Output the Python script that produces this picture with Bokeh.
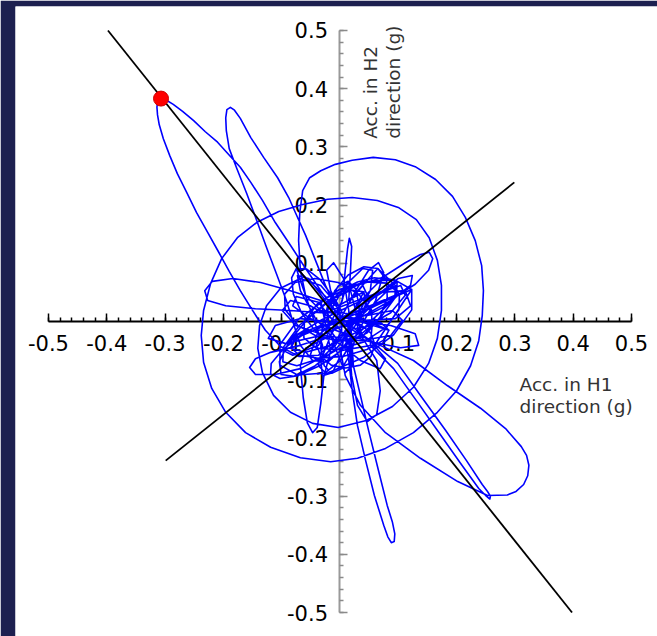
from bokeh.plotting import figure
from bokeh.models import Range1d, LinearAxis, FixedTicker, CustomJSTickFormatter, Label, ColumnDataSource
from bokeh.embed import file_html
from bokeh.resources import INLINE

# ---------------- data (acceleration orbit, g) ----------------
# Each segment: H1 (x) and H2 (y) acceleration values
h1_start = [0.001]
h2_start = [0.000]

h1_core1 = [0.001, 0.035, 0.078, 0.104, 0.112, 0.087, 0.035, -0.016, -0.059, -0.085, -0.076, -0.033]
h2_core1 = [0.000, 0.027, 0.053, 0.062, 0.045, 0.015, -0.015, -0.041, -0.053, -0.046, -0.024, -0.007]

h1_peak_loop = [-0.008, -0.033, -0.059, -0.085, -0.111, -0.133, -0.153, -0.171, -0.191, -0.210, -0.231, -0.251,
                -0.270, -0.286, -0.299, -0.308, -0.313, -0.314, -0.313, -0.310, -0.303, -0.292, -0.279, -0.263, -0.246,
                -0.227, -0.208, -0.190, -0.171, -0.150, -0.128, -0.102, -0.071, -0.037, -0.008]
h2_peak_loop = [0.019, 0.053, 0.091, 0.131, 0.170, 0.208, 0.239, 0.265, 0.287, 0.308, 0.326, 0.345,
                0.361, 0.373, 0.381, 0.383, 0.378, 0.368, 0.355, 0.338, 0.314, 0.285, 0.254, 0.222, 0.187,
                0.153, 0.119, 0.086, 0.053, 0.019, -0.015, -0.043, -0.060, -0.058, -0.033]

h1_loop_k1 = [0.098, 0.074, 0.029, -0.023, -0.069, -0.097, -0.098, -0.074, -0.029, 0.023, 0.069, 0.097, 0.098]
h2_loop_k1 = [0.069, 0.076, 0.062, 0.033, -0.006, -0.044, -0.069, -0.076, -0.062, -0.033, 0.006, 0.044, 0.069]

h1_core2 = [0.001, 0.027, 0.049, 0.066, 0.075, 0.061, 0.027, 0.001, -0.025, -0.037, -0.030]
h2_core2 = [0.005, 0.053, 0.088, 0.101, 0.084, 0.036, -0.024, -0.067, -0.088, -0.076, -0.041]

h1_loop_k9 = [-0.075, -0.083, -0.080, -0.066, -0.045, -0.023, -0.005, 0.003, 0.000, -0.014, -0.035, -0.057, -0.075]
h2_loop_k9 = [0.091, 0.075, 0.047, 0.015, -0.013, -0.030, -0.031, -0.015, 0.013, 0.045, 0.073, 0.090, 0.091]

h1_upper_loop = [-0.008, -0.025, -0.042, -0.059, -0.076, -0.088, -0.107, -0.131, -0.153, -0.171, -0.181, -0.188,
                 -0.194, -0.196, -0.195, -0.190, -0.177, -0.160, -0.143, -0.126, -0.109, -0.092, -0.080, -0.068, -0.047,
                 -0.021, 0.001]
h2_upper_loop = [0.027, 0.062, 0.105, 0.148, 0.186, 0.213, 0.247, 0.282, 0.316, 0.349, 0.363, 0.368,
                 0.364, 0.350, 0.328, 0.297, 0.263, 0.220, 0.174, 0.127, 0.082, 0.036, -0.003, -0.041, -0.067,
                 -0.070, -0.050]

h1_loop_k2 = [0.102, 0.080, 0.043, -0.001, -0.039, -0.061, -0.062, -0.040, -0.003, 0.041, 0.079, 0.101, 0.102]
h2_loop_k2 = [0.048, 0.066, 0.068, 0.055, 0.030, 0.000, -0.028, -0.046, -0.048, -0.035, -0.010, 0.020, 0.048]

h1_core3 = [-0.008, -0.051, -0.085, -0.099, -0.076, -0.025, 0.035, 0.087, 0.107, 0.090, 0.044]
h2_core3 = [0.002, 0.027, 0.036, 0.019, -0.007, -0.024, -0.033, -0.024, 0.002, 0.019, 0.010]

h1_spiral = [-0.033, -0.059, -0.068, -0.071, -0.069, -0.064, -0.052, -0.033, -0.008, 0.021, 0.057, 0.095,
             0.129, 0.164, 0.193, 0.215, 0.232, 0.243, 0.246, 0.244, 0.238, 0.224, 0.200, 0.167,
             0.126, 0.078, 0.030, -0.016, -0.068, -0.119, -0.162, -0.196, -0.220, -0.234, -0.238, -0.234,
             -0.222, -0.203, -0.176, -0.143, -0.105, -0.064, -0.021, 0.021, 0.064, 0.100, 0.131, 0.153,
             0.167, 0.174, 0.174, 0.167, 0.152, 0.126, 0.090, 0.045, -0.003, -0.047, -0.085, -0.114,
             -0.133, -0.141, -0.138, -0.126, -0.102, -0.068, -0.033, -0.003]
h2_spiral = [0.019, 0.045, 0.088, 0.139, 0.187, 0.225, 0.247, 0.259, 0.270, 0.277, 0.282, 0.278,
             0.266, 0.244, 0.215, 0.179, 0.139, 0.096, 0.053, 0.010, -0.033, -0.076, -0.119, -0.156,
             -0.191, -0.218, -0.235, -0.241, -0.234, -0.216, -0.191, -0.156, -0.115, -0.070, -0.024, 0.019,
             0.065, 0.108, 0.144, 0.170, 0.189, 0.201, 0.210, 0.213, 0.208, 0.196, 0.175, 0.144,
             0.105, 0.062, 0.019, -0.029, -0.072, -0.113, -0.146, -0.170, -0.182, -0.175, -0.156, -0.127,
             -0.088, -0.046, -0.007, 0.027, 0.057, 0.074, 0.062, 0.027]

h1_loop_k3 = [0.041, 0.019, -0.016, -0.055, -0.087, -0.104, -0.101, -0.079, -0.044, -0.005, 0.027, 0.044, 0.041]
h2_loop_k3 = [0.051, 0.054, 0.037, 0.005, -0.034, -0.069, -0.091, -0.094, -0.077, -0.045, -0.006, 0.029, 0.051]

h1_core4 = [0.009, 0.052, 0.078, 0.069, 0.035, -0.008, -0.042, -0.068, -0.073, -0.054, -0.025]
h2_core4 = [-0.007, -0.033, -0.064, -0.081, -0.067, -0.033, 0.005, 0.053, 0.079, 0.074, 0.036]

h1_loop_k10 = [0.019, 0.003, -0.028, -0.065, -0.098, -0.118, -0.119, -0.103, -0.072, -0.035, -0.002, 0.018, 0.019]
h2_loop_k10 = [-0.010, -0.002, -0.008, -0.024, -0.048, -0.072, -0.090, -0.098, -0.093, -0.076, -0.053, -0.028, -0.010]

h1_right_loop = [0.018, 0.044, 0.078, 0.112, 0.138, 0.153, 0.159, 0.152, 0.129, 0.099, 0.061, 0.027]
h2_right_loop = [0.010, 0.045, 0.079, 0.101, 0.115, 0.119, 0.108, 0.088, 0.064, 0.045, 0.027, 0.010]

h1_loop_k4 = [0.084, 0.070, 0.037, -0.005, -0.046, -0.075, -0.084, -0.070, -0.037, 0.005, 0.046, 0.075, 0.084]
h2_loop_k4 = [-0.015, -0.002, 0.003, 0.000, -0.012, -0.028, -0.045, -0.058, -0.063, -0.060, -0.048, -0.032, -0.015]

h1_core5 = [0.001, 0.044, 0.095, 0.121, 0.112, 0.069, 0.018, -0.033, -0.076, -0.097, -0.081, -0.037]
h2_core5 = [0.010, 0.002, 0.005, 0.027, 0.053, 0.050, 0.027, 0.002, -0.024, -0.050, -0.058, -0.041]

h1_spike = [0.004, 0.009, 0.013, 0.016, 0.020, 0.018, 0.015]
h2_spike = [0.036, 0.088, 0.125, 0.143, 0.129, 0.088, 0.036]

h1_loop_k5 = [0.065, 0.041, 0.014, -0.009, -0.021, -0.020, -0.005, 0.019, 0.046, 0.069, 0.081, 0.080, 0.065]
h2_loop_k5 = [0.091, 0.094, 0.080, 0.053, 0.019, -0.011, -0.031, -0.034, -0.020, 0.008, 0.041, 0.071, 0.091]

h1_loop_k11 = [0.096, 0.084, 0.059, 0.030, 0.003, -0.014, -0.016, -0.004, 0.021, 0.050, 0.077, 0.094, 0.096]
h2_loop_k11 = [0.061, 0.072, 0.075, 0.068, 0.054, 0.036, 0.020, 0.008, 0.005, 0.012, 0.026, 0.044, 0.061]

h1_core6 = [-0.016, 0.009, 0.039, 0.056, 0.052, 0.027, -0.008, -0.037, -0.051, -0.037]
h2_core6 = [0.019, 0.062, 0.091, 0.088, 0.053, 0.005, -0.041, -0.067, -0.058, -0.015]

h1_narrow_lr = [0.018, 0.056, 0.099, 0.138, 0.181, 0.217, 0.244, 0.253, 0.258, 0.257, 0.250, 0.238, 0.207, 0.172, 0.131, 0.092, 0.052]
h2_narrow_lr = [-0.007, -0.036, -0.072, -0.127, -0.187, -0.239, -0.280, -0.292, -0.300, -0.305, -0.299, -0.287, -0.244, -0.194, -0.136, -0.081, -0.041]

h1_loop_k6 = [0.055, 0.054, 0.032, -0.003, -0.043, -0.077, -0.095, -0.094, -0.072, -0.037, 0.003, 0.037, 0.055]
h2_loop_k6 = [-0.007, 0.020, 0.047, 0.067, 0.074, 0.067, 0.047, 0.020, -0.007, -0.027, -0.034, -0.027, -0.007]

h1_core7 = [0.009, 0.001, -0.013, -0.030, -0.033, -0.016, 0.018, 0.039, 0.047, 0.027]
h2_core7 = [-0.015, -0.058, -0.088, -0.093, -0.067, -0.024, 0.036, 0.062, 0.045, 0.002]

h1_wide_lr = [0.035, 0.069, 0.126, 0.184, 0.241, 0.284, 0.311, 0.320, 0.324, 0.322, 0.315, 0.302, 0.287, 0.253,
              0.202, 0.138, 0.078, 0.035, 0.009, 0.001]
h2_wide_lr = [-0.024, -0.041, -0.067, -0.110, -0.149, -0.184, -0.215, -0.230, -0.247, -0.265, -0.280, -0.292, -0.298, -0.299,
              -0.275, -0.235, -0.191, -0.144, -0.093, -0.050]

h1_loop_k12 = [0.060, 0.053, 0.035, 0.010, -0.015, -0.033, -0.040, -0.033, -0.015, 0.010, 0.035, 0.053, 0.060]
h2_loop_k12 = [-0.040, -0.020, -0.005, 0.000, -0.005, -0.020, -0.040, -0.060, -0.075, -0.080, -0.075, -0.060, -0.040]

h1_loop_k7 = [0.123, 0.093, 0.040, -0.020, -0.072, -0.103, -0.103, -0.073, -0.020, 0.040, 0.092, 0.123, 0.123]
h2_loop_k7 = [0.055, 0.072, 0.068, 0.042, 0.003, -0.040, -0.075, -0.092, -0.088, -0.062, -0.023, 0.020, 0.055]

h1_core8 = [-0.008, -0.068, -0.111, -0.123, -0.093, -0.033, 0.027, 0.087, 0.121, 0.124, 0.100, 0.052]
h2_core8 = [-0.002, 0.005, -0.007, -0.029, -0.038, -0.024, 0.002, 0.036, 0.062, 0.079, 0.074, 0.036]

h1_bottom_loop = [0.009, 0.015, 0.021, 0.030, 0.044, 0.059, 0.075, 0.082, 0.088, 0.093, 0.094, 0.090, 0.081,
                  0.066, 0.049, 0.035, 0.023]
h2_bottom_loop = [-0.024, -0.067, -0.119, -0.179, -0.239, -0.299, -0.350, -0.370, -0.380, -0.378, -0.365, -0.345, -0.316,
                  -0.256, -0.187, -0.127, -0.076]

h1_core9 = [0.018, 0.087, 0.129, 0.135, 0.104, 0.044, -0.008, -0.051, -0.081, -0.075, -0.037]
h2_core9 = [0.002, -0.007, -0.021, -0.041, -0.045, -0.033, -0.015, 0.005, 0.027, 0.043, 0.033]

h1_small_down = [0.015, 0.020, 0.030, 0.047, 0.063, 0.069, 0.063, 0.039]
h2_small_down = [-0.033, -0.093, -0.144, -0.172, -0.160, -0.119, -0.067, -0.029]

h1_loop_k8 = [0.014, -0.003, -0.019, -0.030, -0.033, -0.027, -0.014, 0.003, 0.019, 0.030, 0.033, 0.027, 0.014]
h2_loop_k8 = [0.069, 0.061, 0.034, -0.005, -0.045, -0.076, -0.089, -0.081, -0.054, -0.015, 0.025, 0.056, 0.069]

h1_left_down = [-0.016, -0.059, -0.068, -0.063, -0.056, -0.047, -0.039, -0.033, -0.028, -0.016]
h2_left_down = [-0.024, -0.046, -0.076, -0.131, -0.174, -0.191, -0.182, -0.141, -0.096, -0.050]

h1_left_lobe = [-0.033, -0.085, -0.136, -0.184, -0.219, -0.232, -0.227, -0.196, -0.145, -0.085, -0.033]
h2_left_lobe = [0.036, 0.053, 0.067, 0.074, 0.069, 0.053, 0.036, 0.027, 0.022, 0.019, 0.015]

h1_core10 = [0.004, -0.016, -0.023, -0.011, 0.006, 0.015, 0.018, 0.021, 0.009, -0.003]
h2_core10 = [0.015, 0.053, 0.088, 0.101, 0.074, 0.019, -0.041, -0.076, -0.088, -0.058]

h1_low_lobe = [-0.016, -0.068, -0.119, -0.145, -0.155, -0.145, -0.111, -0.068, -0.025, 0.001]
h2_low_lobe = [-0.024, -0.041, -0.053, -0.064, -0.079, -0.091, -0.091, -0.081, -0.058, -0.024]

# peak point and principal directions
peak_h1 = [-0.307]
peak_h2 = [0.383]
major_dir_h1 = [-0.398, 0.398]
major_dir_h2 = [0.5, -0.5]
minor_dir_h1 = [-0.299, 0.299]
minor_dir_h2 = [-0.239, 0.239]

major_ticks = [-0.5, -0.4, -0.3, -0.2, -0.1, 0.0, 0.1, 0.2, 0.3, 0.4, 0.5]
minor_ticks = [round(-0.5 + 0.02 * i, 2) for i in range(51)]

x_title = ["Acc. in H1", "direction (g)"]
y_title = ["Acc. in H2", "direction (g)"]

# ---------------- build trace ----------------
segments = [
    (h1_start, h2_start), (h1_core1, h2_core1), (h1_peak_loop, h2_peak_loop), (h1_loop_k1, h2_loop_k1),
    (h1_core2, h2_core2), (h1_loop_k9, h2_loop_k9), (h1_upper_loop, h2_upper_loop), (h1_loop_k2, h2_loop_k2),
    (h1_core3, h2_core3), (h1_spiral, h2_spiral), (h1_loop_k3, h2_loop_k3), (h1_core4, h2_core4),
    (h1_loop_k10, h2_loop_k10), (h1_right_loop, h2_right_loop), (h1_loop_k4, h2_loop_k4), (h1_core5, h2_core5),
    (h1_spike, h2_spike), (h1_loop_k5, h2_loop_k5), (h1_loop_k11, h2_loop_k11), (h1_core6, h2_core6),
    (h1_narrow_lr, h2_narrow_lr), (h1_loop_k6, h2_loop_k6), (h1_core7, h2_core7), (h1_wide_lr, h2_wide_lr),
    (h1_loop_k12, h2_loop_k12), (h1_loop_k7, h2_loop_k7), (h1_core8, h2_core8),
    (h1_bottom_loop, h2_bottom_loop), (h1_core9, h2_core9), (h1_small_down, h2_small_down),
    (h1_loop_k8, h2_loop_k8), (h1_left_down, h2_left_down), (h1_left_lobe, h2_left_lobe), (h1_core10, h2_core10),
    (h1_low_lobe, h2_low_lobe),
]
acc_h1, acc_h2 = [], []
for sx, sy in segments:
    n = min(len(sx), len(sy))
    acc_h1 += sx[:n]
    acc_h2 += sy[:n]

FONT = "DejaVu Sans"

p = figure(width=657, height=636, output_backend="svg", toolbar_location=None,
           x_range=Range1d(-0.5566, 0.5446), y_range=Range1d(-0.5412, 0.5412),
           x_axis_type=None, y_axis_type=None,
           min_border_left=15, min_border_top=6, min_border_right=0, min_border_bottom=0)
p.border_fill_color = "#1d2050"
p.background_fill_color = "white"
p.outline_line_color = None
p.xgrid.visible = False
p.ygrid.visible = False

fmt = CustomJSTickFormatter(code="return Math.abs(tick) < 1e-9 ? '' : tick.toFixed(1);")

xaxis = LinearAxis(fixed_location=0, bounds=(-0.5, 0.5),
                   ticker=FixedTicker(ticks=major_ticks, minor_ticks=minor_ticks), formatter=fmt)
xaxis.axis_line_color = "black"
xaxis.axis_line_width = 2
xaxis.major_tick_in = 8
xaxis.major_tick_out = 0
xaxis.minor_tick_in = 4
xaxis.minor_tick_out = 0
xaxis.major_tick_line_color = "black"
xaxis.minor_tick_line_color = "black"
xaxis.major_tick_line_width = 1.5
xaxis.minor_tick_line_width = 1.5
xaxis.major_label_text_font = FONT
xaxis.major_label_text_font_size = "21px"
xaxis.major_label_text_color = "black"
xaxis.major_label_standoff = 13
xaxis.level = "underlay"
p.add_layout(xaxis, "below")

yaxis = LinearAxis(fixed_location=0, bounds=(-0.5, 0.5),
                   ticker=FixedTicker(ticks=major_ticks, minor_ticks=minor_ticks), formatter=fmt)
yaxis.axis_line_color = "#9a9a9a"
yaxis.axis_line_width = 2
yaxis.major_tick_in = 8
yaxis.major_tick_out = 0
yaxis.minor_tick_in = 4
yaxis.minor_tick_out = 0
yaxis.major_tick_line_color = "#8a8a8a"
yaxis.minor_tick_line_color = "#8a8a8a"
yaxis.major_tick_line_width = 1.5
yaxis.minor_tick_line_width = 1.5
yaxis.major_label_text_font = FONT
yaxis.major_label_text_font_size = "21px"
yaxis.major_label_text_color = "black"
yaxis.major_label_standoff = 12
yaxis.level = "underlay"
p.add_layout(yaxis, "left")

src = ColumnDataSource(dict(x=acc_h1, y=acc_h2))
p.line("x", "y", source=src, line_color="#0000ff", line_width=1.6, line_join="round")

p.line(major_dir_h1, major_dir_h2, line_color="black", line_width=1.8)
p.line(minor_dir_h1, minor_dir_h2, line_color="black", line_width=1.8)

p.scatter(peak_h1, peak_h2, size=15, fill_color="#ff0000", line_color="#d00000", line_width=1)

# axis titles
for txt, yy in zip(x_title, [-0.108, -0.146]):
    p.add_layout(Label(x=0.308, y=yy, text=txt, text_font=FONT, text_font_size="18.5px",
                       text_color="#333333", text_align="left", text_baseline="alphabetic"))
for txt, xx in zip(y_title, [0.052, 0.091]):
    p.add_layout(Label(x=xx, y=0.314, text=txt, text_font=FONT, text_font_size="18.5px",
                       text_color="#333333", text_align="left", text_baseline="alphabetic",
                       angle=1.5707963))

open("out.html", "w").write(file_html(p, INLINE))
